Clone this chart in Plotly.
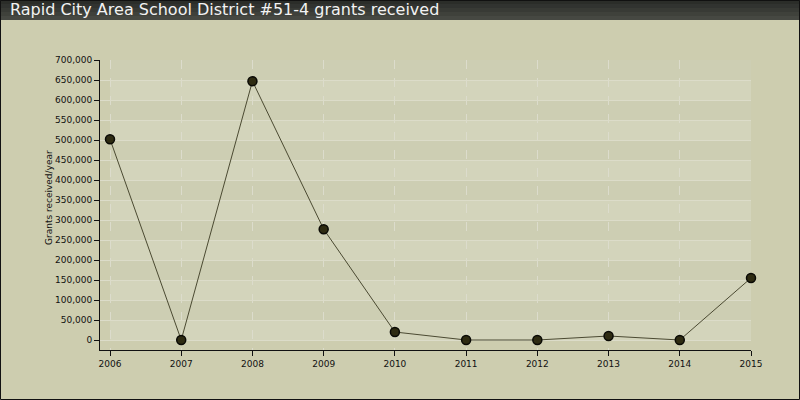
import plotly.graph_objects as go

years = [2006, 2007, 2008, 2009, 2010, 2011, 2012, 2013, 2014, 2015]
grants = [502000, 0, 647000, 277000, 20000, 0, 0, 10000, 0, 155000]

title_text = "Rapid City Area School District #51-4 grants received"
y_title = "Grants received/year"

W, H = 800, 400
ml, mr, mt, mb = 100, 49, 60, 50
pw, ph = W - ml - mr, H - mt - mb

def px_x(p):
    return (p - ml) / pw

def px_y(p):
    return 1 - (p - mt) / ph

fig = go.Figure()

fig.add_trace(go.Scatter(
    x=years, y=grants, mode="lines+markers",
    line=dict(color="#4b4a32", width=1),
    marker=dict(size=9, color="#2e2b12", line=dict(color="#0a0a05", width=1.5)),
    hoverinfo="x+y", showlegend=False, cliponaxis=False,
))

shapes = []
# plot area background bands
shapes.append(dict(type="rect", xref="x", yref="y", x0=years[0], x1=years[-1], y0=0, y1=700000,
                   fillcolor="#d3d4bb", line=dict(width=0), layer="below"))
for i in range(14):
    if i % 2 == 1:
        shapes.append(dict(type="rect", xref="x", yref="y", x0=years[0], x1=years[-1],
                           y0=i * 50000, y1=(i + 1) * 50000,
                           fillcolor="#cdceb3", line=dict(width=0), layer="below"))

# title bar (stacked strips for a gradient)
bar_cols = ["#2b2d29", "#313330", "#383a35", "#3f413b", "#464842"]
for i, c in enumerate(bar_cols):
    shapes.append(dict(type="rect", xref="paper", yref="paper",
                       x0=px_x(0), x1=px_x(W), y0=px_y(4 * (i + 1)), y1=px_y(4 * i),
                       fillcolor=c, line=dict(width=0), layer="below"))
# outer border
shapes.append(dict(type="rect", xref="paper", yref="paper",
                   x0=px_x(0.5), x1=px_x(W - 0.5), y0=px_y(H - 0.5), y1=px_y(0.5),
                   line=dict(color="#111111", width=1), fillcolor="rgba(0,0,0,0)"))

fig.update_layout(
    width=W, height=H,
    margin=dict(l=ml, r=mr, t=mt, b=mb),
    paper_bgcolor="#cdcdaf",
    plot_bgcolor="rgba(0,0,0,0)",
    font=dict(family="DejaVu Sans", size=9, color="#111111"),
    shapes=shapes,
    annotations=[
        dict(text=title_text, xref="paper", yref="paper",
             x=px_x(8), y=px_y(10), xanchor="left", yanchor="middle",
             showarrow=False, font=dict(size=16, color="#f2f2f2", family="DejaVu Sans")),
        dict(text=y_title, xref="paper", yref="paper", textangle=-90,
             x=px_x(49), y=px_y(198), xanchor="center", yanchor="middle",
             showarrow=False, font=dict(size=9, color="#111111")),
    ],
    xaxis=dict(
        range=[years[0] - 10 / (pw / 9.14), years[-1]],
        tickmode="array", tickvals=years, ticktext=[str(y) for y in years],
        showline=True, linecolor="#111111", linewidth=1,
        ticks="outside", ticklen=5, tickcolor="#111111",
        showgrid=True, gridcolor="#dcdccc", griddash="dash", gridwidth=1,
        zeroline=False, fixedrange=True,
    ),
    yaxis=dict(
        range=[-25000, 700000],
        tickmode="linear", tick0=0, dtick=50000, tickformat=",d",
        showline=True, linecolor="#111111", linewidth=1,
        ticks="outside", ticklen=5, tickcolor="#111111",
        showgrid=True, gridcolor="#dcdcc9", gridwidth=1,
        zeroline=False, fixedrange=True,
    ),
)

fig.write_html("out.html", config={"displayModeBar": False},
               post_script="document.body.style.margin='0';")
